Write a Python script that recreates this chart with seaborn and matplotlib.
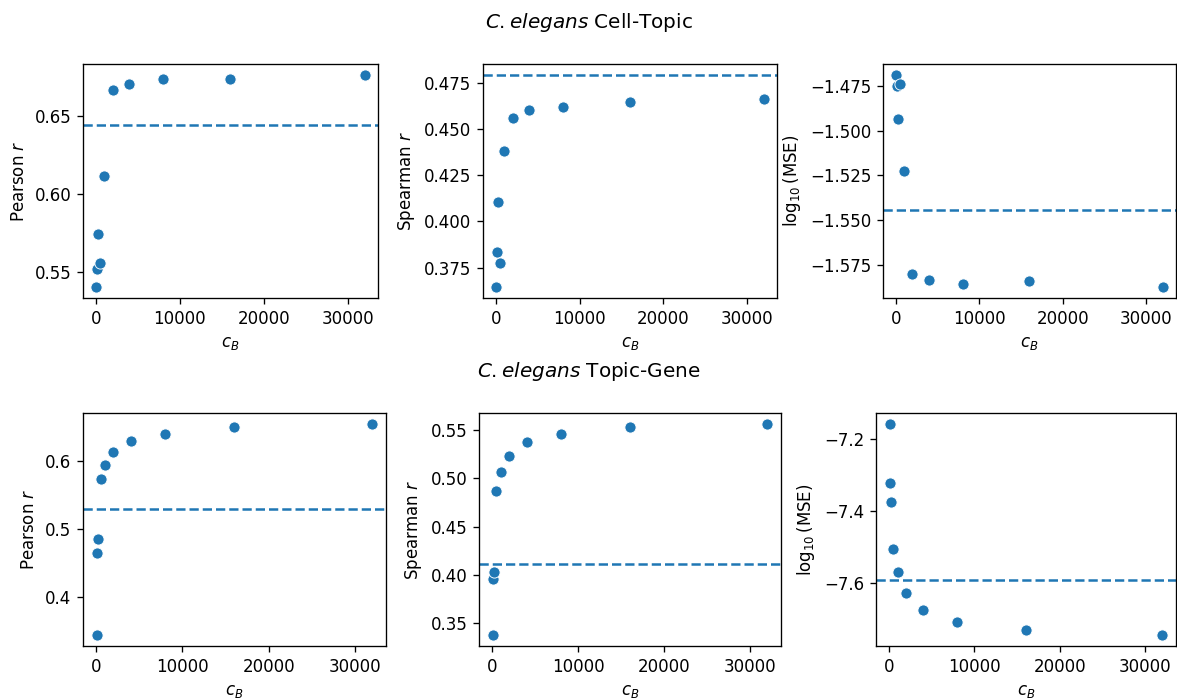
"""Cell-Topic / Topic-Gene scatter panels for C. elegans."""

import matplotlib
matplotlib.use('Agg')
import matplotlib.pyplot as plt
from matplotlib.ticker import MultipleLocator
import seaborn as sns
import numpy as np

# c_B values shared by every panel
c_b = [62.5, 125, 250, 500, 1000, 2000, 4000, 8000, 16000, 32000]

# Cell-Topic
ct_pearson = [0.5399, 0.5519, 0.5745, 0.5556, 0.6114, 0.6670, 0.6709, 0.6739, 0.6739, 0.6767]
ct_spearman = [0.3643, 0.3837, 0.4103, 0.3775, 0.4383, 0.4562, 0.4603, 0.4620, 0.4647, 0.4663]
ct_logmse = [-1.4688, -1.4752, -1.4933, -1.4741, -1.5226, -1.5802, -1.5832, -1.5856, -1.5841, -1.5875]
ct_baseline = [0.6440, 0.4795, -1.5444]

# Topic-Gene
tg_pearson = [0.3445, 0.4657, 0.4857, 0.5737, 0.5946, 0.6131, 0.6287, 0.6394, 0.6491, 0.6545]
tg_spearman = [0.3372, 0.3952, 0.4028, 0.4869, 0.5069, 0.5238, 0.5379, 0.5466, 0.5538, 0.5569]
tg_logmse = [-7.1567, -7.3226, -7.3742, -7.5051, -7.5696, -7.6276, -7.6747, -7.7069, -7.7300, -7.7447]
tg_baseline = [0.5302, 0.4117, -7.5908]

ylabels = ['Pearson $r$', 'Spearman $r$', r'$\log_{10}$(MSE)']
titles = [r'$C. elegans$ Cell-Topic', r'$C. elegans$ Topic-Gene']

W, H = 1177, 698
DPI = 120
fig = plt.figure(figsize=(W / DPI, H / DPI), dpi=DPI)

# axes boxes in pixels: left, right, top, bottom
top_boxes = [(83, 378, 64, 298), (483, 777, 64, 298), (883, 1176, 64, 298)]
bottom_boxes = [(83, 386, 413, 646), (479, 781, 413, 646), (876, 1176, 413, 646)]
top_steps = [0.05, 0.025, 0.025]
bottom_steps = [0.1, 0.05, 0.2]


def px_box(b):
    l, r, t, bt = b
    return [l / W, 1 - bt / H, (r - l) / W, (bt - t) / H]


rows = [
    (top_boxes, top_steps, [ct_pearson, ct_spearman, ct_logmse], ct_baseline),
    (bottom_boxes, bottom_steps, [tg_pearson, tg_spearman, tg_logmse], tg_baseline),
]

for boxes, steps, series, baselines in rows:
    for box, step, y, base, ylab in zip(boxes, steps, series, baselines, ylabels):
        ax = fig.add_axes(px_box(box))
        sns.scatterplot(x=c_b, y=y, ax=ax, s=45)
        ax.axhline(base, ls='--', color='C0', lw=1.5)
        ax.xaxis.set_major_locator(MultipleLocator(10000))
        ax.yaxis.set_major_locator(MultipleLocator(step))
        ax.set_xlabel('$c_B$')
        ax.set_ylabel(ylab)

fig.text(0.5, 1 - 22 / H, titles[0], ha='center', va='center', fontsize=12)
fig.text(0.5, 1 - 371 / H, titles[1], ha='center', va='center', fontsize=12)

plt.savefig('out.png', dpi=DPI)
plt.close()
